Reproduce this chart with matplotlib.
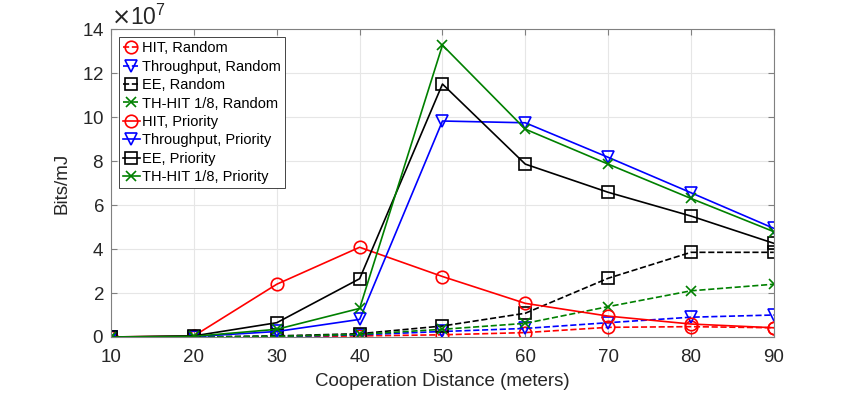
import numpy as np
import matplotlib
matplotlib.use('Agg')
import matplotlib.pyplot as plt

plt.rcParams['font.family'] = ['Liberation Sans', 'DejaVu Sans']

# cooperation distance (m)
dist = [10, 20, 30, 40, 50, 60, 70, 80, 90]

# values in units of 1e7 bits/mJ
hit_rand = [0.0, 0.0, 0.0, 0.05, 0.1, 0.2, 0.44, 0.47, 0.42]
thr_rand = [0.0, 0.0, 0.02, 0.1, 0.25, 0.39, 0.65, 0.9, 1.0]
ee_rand = [0.0, 0.0, 0.05, 0.15, 0.5, 1.08, 2.67, 3.85, 3.85]
th_rand = [0.0, 0.0, 0.03, 0.12, 0.35, 0.62, 1.38, 2.1, 2.4]

hit_prio = [0.0, 0.05, 2.4, 4.08, 2.75, 1.53, 0.95, 0.59, 0.42]
thr_prio = [0.0, 0.02, 0.25, 0.8, 9.82, 9.74, 8.17, 6.56, 4.94]
ee_prio = [0.0, 0.05, 0.65, 2.65, 11.5, 7.86, 6.58, 5.5, 4.26]
th_prio = [0.0, 0.03, 0.35, 1.3, 13.27, 9.45, 7.86, 6.3, 4.79]

green = '#008000'
series = [
    (hit_rand, 'r', 'o', '--', 'HIT, Random'),
    (thr_rand, 'b', 'v', '--', 'Throughput, Random'),
    (ee_rand, 'k', 's', '--', 'EE, Random'),
    (th_rand, green, 'x', '--', 'TH-HIT 1/8, Random'),
    (hit_prio, 'r', 'o', '-', 'HIT, Priority'),
    (thr_prio, 'b', 'v', '-', 'Throughput, Priority'),
    (ee_prio, 'k', 's', '-', 'EE, Priority'),
    (th_prio, green, 'x', '-', 'TH-HIT 1/8, Priority'),
]

fig = plt.figure(figsize=(8.55, 3.93), dpi=100)
ax = fig.add_axes([0.130, 0.1425, 0.775, 0.7835])

x = np.array(dist)
for vals, c, m, ls, lab in series:
    ms = 9 if m != 'x' else 7
    ax.plot(x, np.array(vals) * 1e7, color=c, marker=m, linestyle=ls,
            linewidth=1.2, markersize=ms, markerfacecolor='none',
            markeredgewidth=1.2, label=lab)

ax.set_xlim(10, 90)
ax.set_ylim(0, 14e7)
ax.set_xticks(dist)
ax.set_yticks(np.arange(0, 15e7, 2e7))
ax.ticklabel_format(axis='y', style='sci', scilimits=(7, 7), useMathText=True)
ax.yaxis.get_offset_text().set_fontsize(16.5)
ax.yaxis.get_offset_text().set_color('#262626')

ax.grid(True, color='#e6e6e6', linewidth=0.8)
ax.set_axisbelow(True)
for sp in ax.spines.values():
    sp.set_color('#808080')
    sp.set_linewidth(0.8)
ax.tick_params(direction='in', top=True, right=True, labelsize=13.5,
               color='#808080', length=4, labelcolor='#262626')
ax.tick_params(axis='x', pad=9)
ax.tick_params(axis='y', pad=5)

ax.set_xlabel('Cooperation Distance (meters)', fontsize=13.5, color='#262626',
              labelpad=5)
ax.set_ylabel('Bits/mJ', fontsize=13.5, color='#262626', labelpad=8)

leg = ax.legend(loc='upper left', fontsize=10.5, handlelength=1.1,
                handletextpad=0.15, borderpad=0.3, labelspacing=0.3,
                fancybox=False, framealpha=1, edgecolor='#262626',
                borderaxespad=0, bbox_to_anchor=(0.012, 0.974))
leg.get_frame().set_linewidth(0.6)

fig.savefig('out.png', dpi=100)
